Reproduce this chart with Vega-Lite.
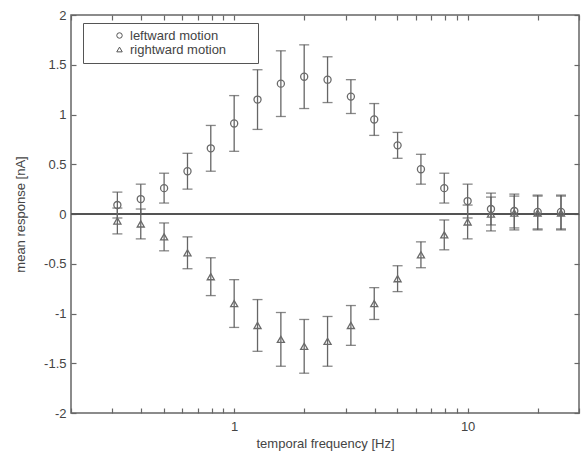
{
  "$schema": "https://vega.github.io/schema/vega-lite/v6.json",
  "width": 508,
  "height": 398,
  "autosize": {"type": "none"},
  "padding": {"left": 71, "top": 15, "right": 2, "bottom": 41},
  "background": "white",
  "config": {
    "view": {"stroke": "#666", "strokeWidth": 1.5},
    "font": "Liberation Sans",
    "axis": {"grid": false, "domain": false, "ticks": true, "tickColor": "#666", "tickWidth": 1.2, "tickSize": 5, "offset": -5, "labelColor": "#444", "labelFont": "Liberation Sans", "labelFontSize": 13, "titleFont": "Liberation Sans", "titleFontSize": 13, "titleFontWeight": "normal", "titleColor": "#444"},
    "legend": {"labelFont": "Liberation Sans"}
  },
  "data": {"values": [
    {"f": 0.316, "dir": "leftward motion", "m": 0.09, "lo": -0.04, "hi": 0.22},
    {"f": 0.398, "dir": "leftward motion", "m": 0.15, "lo": 0.0, "hi": 0.30},
    {"f": 0.501, "dir": "leftward motion", "m": 0.26, "lo": 0.11, "hi": 0.41},
    {"f": 0.631, "dir": "leftward motion", "m": 0.43, "lo": 0.25, "hi": 0.61},
    {"f": 0.794, "dir": "leftward motion", "m": 0.66, "lo": 0.43, "hi": 0.89},
    {"f": 1.0, "dir": "leftward motion", "m": 0.91, "lo": 0.63, "hi": 1.19},
    {"f": 1.259, "dir": "leftward motion", "m": 1.15, "lo": 0.85, "hi": 1.45},
    {"f": 1.585, "dir": "leftward motion", "m": 1.31, "lo": 0.98, "hi": 1.64},
    {"f": 1.995, "dir": "leftward motion", "m": 1.38, "lo": 1.06, "hi": 1.70},
    {"f": 2.512, "dir": "leftward motion", "m": 1.35, "lo": 1.12, "hi": 1.58},
    {"f": 3.162, "dir": "leftward motion", "m": 1.18, "lo": 1.01, "hi": 1.35},
    {"f": 3.981, "dir": "leftward motion", "m": 0.95, "lo": 0.79, "hi": 1.11},
    {"f": 5.012, "dir": "leftward motion", "m": 0.69, "lo": 0.56, "hi": 0.82},
    {"f": 6.31, "dir": "leftward motion", "m": 0.45, "lo": 0.30, "hi": 0.60},
    {"f": 7.943, "dir": "leftward motion", "m": 0.26, "lo": 0.11, "hi": 0.41},
    {"f": 10.0, "dir": "leftward motion", "m": 0.13, "lo": -0.04, "hi": 0.30},
    {"f": 12.59, "dir": "leftward motion", "m": 0.05, "lo": -0.11, "hi": 0.21},
    {"f": 15.85, "dir": "leftward motion", "m": 0.03, "lo": -0.14, "hi": 0.20},
    {"f": 19.95, "dir": "leftward motion", "m": 0.02, "lo": -0.15, "hi": 0.19},
    {"f": 25.12, "dir": "leftward motion", "m": 0.02, "lo": -0.15, "hi": 0.19},
    {"f": 0.316, "dir": "rightward motion", "m": -0.07, "lo": -0.20, "hi": 0.06},
    {"f": 0.398, "dir": "rightward motion", "m": -0.10, "lo": -0.25, "hi": 0.05},
    {"f": 0.501, "dir": "rightward motion", "m": -0.23, "lo": -0.37, "hi": -0.09},
    {"f": 0.631, "dir": "rightward motion", "m": -0.39, "lo": -0.55, "hi": -0.23},
    {"f": 0.794, "dir": "rightward motion", "m": -0.63, "lo": -0.82, "hi": -0.44},
    {"f": 1.0, "dir": "rightward motion", "m": -0.90, "lo": -1.14, "hi": -0.66},
    {"f": 1.259, "dir": "rightward motion", "m": -1.12, "lo": -1.38, "hi": -0.86},
    {"f": 1.585, "dir": "rightward motion", "m": -1.26, "lo": -1.53, "hi": -0.99},
    {"f": 1.995, "dir": "rightward motion", "m": -1.33, "lo": -1.60, "hi": -1.06},
    {"f": 2.512, "dir": "rightward motion", "m": -1.28, "lo": -1.53, "hi": -1.03},
    {"f": 3.162, "dir": "rightward motion", "m": -1.12, "lo": -1.32, "hi": -0.92},
    {"f": 3.981, "dir": "rightward motion", "m": -0.90, "lo": -1.06, "hi": -0.74},
    {"f": 5.012, "dir": "rightward motion", "m": -0.65, "lo": -0.78, "hi": -0.52},
    {"f": 6.31, "dir": "rightward motion", "m": -0.41, "lo": -0.54, "hi": -0.28},
    {"f": 7.943, "dir": "rightward motion", "m": -0.21, "lo": -0.36, "hi": -0.06},
    {"f": 10.0, "dir": "rightward motion", "m": -0.08, "lo": -0.25, "hi": 0.09},
    {"f": 12.59, "dir": "rightward motion", "m": 0.0, "lo": -0.17, "hi": 0.17},
    {"f": 15.85, "dir": "rightward motion", "m": 0.01, "lo": -0.16, "hi": 0.18},
    {"f": 19.95, "dir": "rightward motion", "m": 0.01, "lo": -0.16, "hi": 0.18},
    {"f": 25.12, "dir": "rightward motion", "m": 0.01, "lo": -0.16, "hi": 0.18}
  ]},
  "resolve": {"axis": {"x": "independent", "y": "independent"}},
  "layer": [
    {
      "mark": {"type": "rule", "color": "#555", "strokeWidth": 1.5},
      "encoding": {"y": {"datum": 0, "type": "quantitative", "scale": {"domain": [-2, 2]}, "axis": null}}
    },
    {
      "mark": {"type": "rule", "color": "#666", "strokeWidth": 1.3},
      "encoding": {
        "x": {"field": "f", "type": "quantitative", "scale": {"type": "log", "domain": [0.2, 30], "nice": false}, "axis": null},
        "y": {"field": "lo", "type": "quantitative", "scale": {"domain": [-2, 2], "nice": false}, "axis": null},
        "y2": {"field": "hi"}
      }
    },
    {
      "mark": {"type": "tick", "orient": "horizontal", "color": "#555", "size": 10, "thickness": 1.3},
      "encoding": {
        "x": {"field": "f", "type": "quantitative", "axis": {"orient": "top", "labels": false, "title": null, "ticks": true, "values": [0.2,0.3,0.4,0.5,0.6,0.7,0.8,0.9,1,2,3,4,5,6,7,8,9,10,20,30]}},
        "y": {"field": "lo", "type": "quantitative", "axis": {"orient": "right", "labels": false, "title": null, "ticks": true, "values": [-2,-1.5,-1,-0.5,0,0.5,1,1.5,2]}}
      }
    },
    {
      "mark": {"type": "tick", "orient": "horizontal", "color": "#555", "size": 10, "thickness": 1.3},
      "encoding": {
        "x": {"field": "f", "type": "quantitative", "axis": null},
        "y": {"field": "hi", "type": "quantitative", "axis": null}
      }
    },
    {
      "mark": {"type": "point", "filled": false, "size": 50, "strokeWidth": 1.3, "color": "#6a6a6a", "opacity": 1},
      "encoding": {
        "x": {"field": "f", "type": "quantitative", "title": "temporal frequency [Hz]", "axis": {"orient": "bottom", "ticks": true, "labelPadding": 7, "titlePadding": 4, "values": [0.2,0.3,0.4,0.5,0.6,0.7,0.8,0.9,1,2,3,4,5,6,7,8,9,10,20,30], "labelExpr": "datum.value == 1 ? '1' : (datum.value == 10 ? '10' : '')"}},
        "y": {"field": "m", "type": "quantitative", "title": "mean response [nA]", "axis": {"orient": "left", "ticks": true, "labelPadding": 5, "titlePadding": 16, "values": [-2,-1.5,-1,-0.5,0,0.5,1,1.5,2], "labelExpr": "replace(format(datum.value, '~g'), '−', '-')"}},
        "shape": {"field": "dir", "type": "nominal", "scale": {"domain": ["leftward motion", "rightward motion"], "range": ["circle", "triangle-up"]},
          "legend": {"title": null, "orient": "none", "legendX": 12, "legendY": 8, "strokeColor": "#555", "padding": 6, "symbolOffset": 24, "labelOffset": 4, "labelFontSize": 13, "labelColor": "#444", "labelLimit": 400, "symbolSize": 30, "symbolStrokeColor": "#555", "symbolStrokeWidth": 1, "rowPadding": 0, "labelExpr": "datum.label + '\u00a0\u00a0\u00a0\u00a0\u00a0\u00a0\u00a0\u200b'"}}
      }
    }
  ]
}
